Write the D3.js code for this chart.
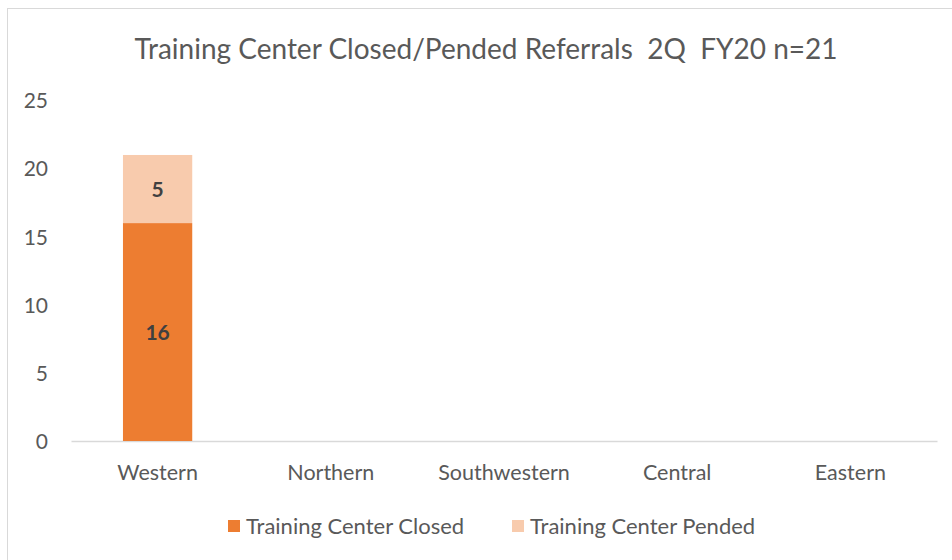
<!DOCTYPE html>
<html>
<head>
<meta charset="utf-8">
<script src="https://cdn.jsdelivr.net/npm/d3@7"></script>
<style>
  body { margin: 0; background: #fff; }
  text { font-family: Lato, "Open Sans", sans-serif; fill: #595959; }
</style>
</head>
<body>
<div id="chart"></div>
<script>
const regions = ["Western", "Northern", "Southwestern", "Central", "Eastern"];
const closed = [16, 0, 0, 0, 0];
const pended = [5, 0, 0, 0, 0];
const seriesNames = ["Training Center Closed", "Training Center Pended"];
const yTicks = [0, 5, 10, 15, 20, 25];

const w = 952, h = 560;
const margin = {top: 100, right: 15, bottom: 119, left: 71};
const colors = ["#ED7D31", "#F8CBAD"];

const svg = d3.select("#chart").append("svg")
    .attr("width", w)
    .attr("height", h);

// chart frame (only top and left edges visible in the crop)
svg.append("rect")
    .attr("x", 7.5).attr("y", 8.5)
    .attr("width", w + 10).attr("height", h + 10)
    .attr("fill", "none")
    .attr("stroke", "#d9d9d9");

const x = d3.scaleBand()
    .domain(regions)
    .range([margin.left, w - margin.right])
    .paddingInner(0.6)
    .paddingOuter(0.3);

const y = d3.scaleLinear()
    .domain([0, 25])
    .range([h - margin.bottom, h - margin.bottom - 340.5]);

svg.append("text")
    .attr("x", 486)
    .attr("y", 59)
    .attr("text-anchor", "middle")
    .style("font-size", "28px")
    .style("white-space", "pre")
    .text("Training Center Closed/Pended Referrals  2Q  FY20 n=21");

// y axis labels
const yAxis = svg.append("g")
    .attr("transform", "translate(" + (margin.left - 23) + ",0)")
    .call(d3.axisLeft(y).tickValues(yTicks).tickSize(0).tickPadding(0));
yAxis.select(".domain").remove();
yAxis.selectAll("text")
    .style("font-size", "21px")
    .attr("dy", "0.35em");

// x axis
const xAxis = svg.append("g")
    .attr("transform", "translate(0," + y(0) + ")")
    .call(d3.axisBottom(x).tickSize(0));
xAxis.select(".domain").attr("stroke", "#d9d9d9").attr("stroke-width", 1.5);
xAxis.selectAll("text")
    .style("font-size", "21.5px")
    .attr("y", 31)
    .attr("dy", "0.35em");

const stacked = d3.stack().keys([0, 1])(regions.map((r, i) => ({0: closed[i], 1: pended[i], region: r})));

const layers = svg.append("g").selectAll("g")
    .data(stacked)
    .enter().append("g")
    .attr("fill", (d, i) => colors[i]);

layers.selectAll("rect")
    .data(d => d)
    .enter().append("rect")
    .attr("x", d => x(d.data.region))
    .attr("y", d => y(d[1]))
    .attr("width", x.bandwidth())
    .attr("height", d => y(d[0]) - y(d[1]));

layers.selectAll("text")
    .data(d => d.filter(p => p[1] - p[0] > 0))
    .enter().append("text")
    .attr("x", d => x(d.data.region) + x.bandwidth() / 2)
    .attr("y", d => (y(d[0]) + y(d[1])) / 2 + 1)
    .attr("dy", "0.35em")
    .attr("text-anchor", "middle")
    .style("font-size", "21px")
    .style("font-weight", "bold")
    .style("fill", "#404040")
    .text(d => d[1] - d[0]);

// legend
const legend = svg.append("g");
const legendX = [228, 512];
seriesNames.forEach((name, i) => {
    legend.append("rect")
        .attr("x", legendX[i]).attr("y", 520)
        .attr("width", 12).attr("height", 12)
        .attr("fill", colors[i]);
    legend.append("text")
        .attr("x", legendX[i] + 18)
        .attr("y", 526)
        .attr("dy", "0.35em")
        .style("font-size", "22px")
        .text(name);
});
</script>
</body>
</html>
